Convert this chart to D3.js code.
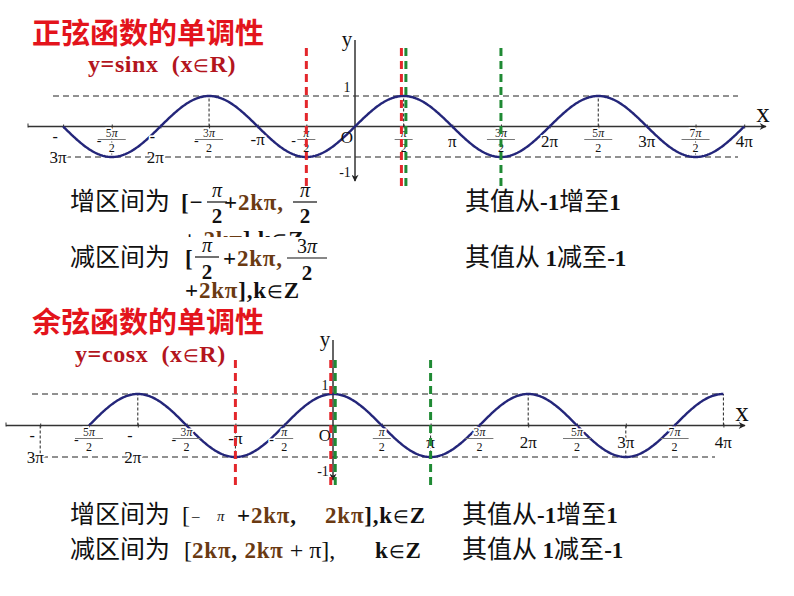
<!DOCTYPE html>
<html><head><meta charset="utf-8">
<script src="https://cdn.jsdelivr.net/npm/d3@7"></script>
<style>body{margin:0;background:#fff}svg{display:block}text{white-space:pre}</style>
</head><body><svg id="c" width="794" height="596"></svg>
<script>
// ---------- data (x values in units of π) ----------
const sinDomain = [-3, 4];
const cosDomain = [-2.5, 4];
const sinTickValues = [-3, -2.5, -2, -1.5, -1, -0.5, 0.5, 1, 1.5, 2, 2.5, 3, 3.5, 4];
const sinTickLabels = ["-3π", "-5π/2", "-2π", "-3π/2", "-π", "-π/2", "π/2", "π", "3π/2", "2π", "5π/2", "3π", "7π/2", "4π"];
const cosTickValues = [-3, -2.5, -2, -1.5, -1, -0.5, 0.5, 1, 1.5, 2, 2.5, 3, 3.5, 4];
const cosTickLabels = ["-3π", "-5π/2", "-2π", "-3π/2", "-π", "-π/2", "π/2", "π", "3π/2", "2π", "5π/2", "3π", "7π/2", "4π"];
const yTickValues = [1, -1];
const yTickLabels = ["1", "-1"];
const sinExtrema = [-2.5, -1.5, -0.5, 0.5, 1.5, 2.5, 3.5];
const cosExtrema = [-3, -2, -1, 1, 2, 3, 4];
const sinMarkers = [{v: -0.5, c: "red"}, {v: 0.5, c: "red"}, {v: 0.5, c: "green"}, {v: 1.5, c: "green"}];
const cosMarkers = [{v: -1, c: "red"}, {v: 0, c: "red"}, {v: 0, c: "green"}, {v: 1, c: "green"}];

// ---------- styles ----------
const SERIF = "'Liberation Serif','Times New Roman',serif";
const CJK = "'Noto Sans CJK SC','Noto Sans',sans-serif";
const BROWN = "#6a3a12";
const COLORS = {red: "#e3262b", green: "#1f8a34"};
const svg = d3.select("#c");

const defs = svg.append("defs");
defs.append("marker").attr("id", "arr").attr("viewBox", "0 0 10 10").attr("refX", 9).attr("refY", 5)
  .attr("markerWidth", 9).attr("markerHeight", 7).attr("markerUnits", "userSpaceOnUse").attr("orient", "auto")
  .append("path").attr("d", "M0,0 L10,5 L0,10 L3,5 Z").attr("fill", "#222");

function txt(g, x, y, s, o) {
  o = o || {};
  return g.append("text").attr("x", x).attr("y", y).text(s)
    .attr("font-family", o.family || SERIF).attr("font-size", o.size || 16)
    .attr("font-weight", o.weight || "normal").attr("font-style", o.style || "normal")
    .attr("fill", o.fill || "#111").attr("text-anchor", o.anchor || "start")
    .attr("letter-spacing", o.ls || 0);
}
function halo(sel) { return sel.attr("stroke", "#fff").attr("stroke-width", 3).attr("paint-order", "stroke"); }

function panel(cfg) {
  const x = d3.scaleLinear().domain([0, 1]).range([cfg.ox, cfg.ox + cfg.pi]);
  const y = d3.scaleLinear().domain([-1, 1]).range([cfg.yBot, cfg.yTop]);
  const g = svg.append("g");
  const ay = y(0);

  g.append("line").attr("x1", cfg.hTop[0]).attr("x2", cfg.hTop[1]).attr("y1", y(1)).attr("y2", y(1))
    .attr("stroke", "#222").attr("stroke-width", 1).attr("stroke-dasharray", "6,4");
  g.append("line").attr("x1", cfg.hBot[0]).attr("x2", cfg.hBot[1]).attr("y1", y(-1)).attr("y2", y(-1))
    .attr("stroke", "#222").attr("stroke-width", 1).attr("stroke-dasharray", "6,4");

  g.selectAll(".ext").data(cfg.extrema).join("line")
    .attr("x1", d => x(d)).attr("x2", d => x(d)).attr("y1", ay).attr("y2", d => y(cfg.fn(d * Math.PI)))
    .attr("stroke", "#222").attr("stroke-width", 1).attr("stroke-dasharray", "3,2");

  g.append("line").attr("x1", cfg.axX[0]).attr("x2", cfg.axX[1]).attr("y1", ay).attr("y2", ay)
    .attr("stroke", "#333").attr("stroke-width", 1.5).attr("marker-end", "url(#arr)");
  const axis = d3.axisBottom(x).tickValues(cfg.tickValues).tickFormat("").tickSize(4);
  const ag = g.append("g").attr("transform", `translate(0,${ay - 2})`).call(axis);
  ag.select(".domain").remove();
  ag.selectAll(".tick line").attr("stroke", "#333");
  g.append("line").attr("x1", cfg.axX[0]).attr("x2", cfg.axX[0]).attr("y1", ay - 3).attr("y2", ay + 1).attr("stroke", "#333");

  g.append("line").attr("x1", x(0)).attr("x2", x(0)).attr("y1", cfg.yAx[1]).attr("y2", cfg.yAx[0])
    .attr("stroke", "#333").attr("stroke-width", 1.5).attr("marker-end", "url(#arr)");

  const pts = d3.range(cfg.domain[0], cfg.domain[1] + 0.0001, 0.01).map(v => [v, cfg.fn(v * Math.PI)]);
  g.append("path").datum(pts)
    .attr("d", d3.line().x(d => x(d[0])).y(d => y(d[1])))
    .attr("fill", "none").attr("stroke", "#24267a").attr("stroke-width", 2.4);

  cfg.tickValues.forEach((v, i) => {
    const lab = cfg.tickLabels[i];
    const m = lab.match(/^(-?)(\d*)π(?:\/(\d))?$/);
    const cx = x(v);
    const neg = m[1] === "-", coef = m[2], den = m[3];
    if (den) {
      if (neg) halo(txt(g, cx - 15, ay + 18, "-", {size: 14}));
      const t = txt(g, cx, ay + cfg.fr[0], "", {size: 12, anchor: "middle"});
      if (coef) t.append("tspan").text(coef);
      t.append("tspan").text("π").attr("font-style", "italic");
      halo(t);
      const w = coef ? 14 : 9;
      g.append("line").attr("x1", cx - w).attr("x2", cx + w).attr("y1", ay + cfg.fr[1]).attr("y2", ay + cfg.fr[1])
        .attr("stroke", "#777").attr("stroke-width", 1);
      halo(txt(g, cx, ay + cfg.fr[2], "2", {size: 12, anchor: "middle"}));
    } else if (neg && coef) {
      halo(txt(g, cx - 8, ay + 15, "-", {size: 16, anchor: "middle"}));
      halo(txt(g, cx - 5, y(-1) + 6, coef + "π", {size: 17, anchor: "middle"}));
    } else {
      halo(txt(g, cx, ay + (neg ? 18 : cfg.intDy), lab, {size: 17, anchor: "middle"}));
    }
  });

  txt(g, x(0) - 8, ay + cfg.oDy, "O", {size: 17, anchor: "middle"});
  yTickValues.forEach((v, i) => {
    txt(g, x(0) - (v > 0 ? 8 : 10), v > 0 ? y(v) - 4 : cfg.yAx[0] - 4, yTickLabels[i], {size: 14, anchor: "middle"});
  });
  txt(g, x(0) - 8, cfg.yAx[1] + 6, "y", {size: 21, anchor: "middle"});
  txt(g, cfg.axX[1] - 3, ay - 5, "x", {size: 27, anchor: "middle"});

  cfg.markers.forEach((mk) => {
    const same = cfg.markers.filter(d => d.v === mk.v);
    const k = same.indexOf(mk);
    const off = (k - (same.length - 1) / 2) * 4.5;
    g.append("line").attr("x1", x(mk.v) + off).attr("x2", x(mk.v) + off)
      .attr("y1", cfg.mk[0]).attr("y2", cfg.mk[1])
      .attr("stroke", COLORS[mk.c]).attr("stroke-width", 3).attr("stroke-dasharray", "8,5");
  });
  return g;
}

panel({
  domain: sinDomain, fn: Math.sin, ox: 355, pi: 97.3, yTop: 96, yBot: 157,
  hTop: [53, 738], hBot: [55, 738], axX: [28, 766], yAx: [181, 40],
  tickValues: sinTickValues, tickLabels: sinTickLabels, extrema: sinExtrema, markers: sinMarkers,
  fr: [10, 13, 25], intDy: 20, oDy: 16, mk: [48, 186]
});
panel({
  domain: cosDomain, fn: Math.cos, ox: 333, pi: 97.6, yTop: 394, yBot: 457,
  hTop: [32, 723], hBot: [32, 715], axX: [6, 745], yAx: [480, 340],
  tickValues: cosTickValues, tickLabels: cosTickLabels, extrema: cosExtrema, markers: cosMarkers,
  fr: [10, 13, 25], intDy: 22, oDy: 15, mk: [360, 490]
});

// ---------- titles ----------
const T = svg.append("g");
function subtitle(x, y, fnName) {
  const t = T.append("text").attr("x", x).attr("y", y).attr("font-family", SERIF).attr("font-size", 24)
    .attr("font-weight", "bold").attr("fill", "#b3151d").attr("letter-spacing", 0.6);
  t.append("tspan").text(fnName + "  (x");
  t.append("tspan").text("∈").attr("font-size", 18).attr("font-weight", "normal");
  t.append("tspan").text("R)");
}
txt(T, 32, 44, "正弦函数的单调性", {family: CJK, size: 29, weight: "bold", fill: "#e3141c"});
subtitle(88, 72, "y=sinx");
txt(T, 32, 333, "余弦函数的单调性", {family: CJK, size: 29, weight: "bold", fill: "#e3141c"});
subtitle(75, 362, "y=cosx");

// ---------- interval texts ----------
const B = {size: 23, weight: "bold", ls: 0.8};
function frac(g, cx, yNum, yLine, yDen, num, halfW) {
  const t = txt(g, cx, yNum, "", {size: 20, anchor: "middle"});
  if (num.length > 1) t.append("tspan").text(num[0]);
  t.append("tspan").text("π").attr("font-style", "italic");
  g.append("line").attr("x1", cx - halfW).attr("x2", cx + halfW).attr("y1", yLine).attr("y2", yLine).attr("stroke", "#111").attr("stroke-width", 1.2);
  txt(g, cx, yDen, "2", {size: 21, weight: "bold", anchor: "middle"});
}
function rich(g, x, y, parts) {
  const t = g.append("text").attr("x", x).attr("y", y);
  parts.forEach(p => {
    const segs = p.cjk ? [p.t] : p.t.split(/(∈)/);
    segs.forEach(s => {
      if (!s) return;
      const isIn = s === "∈";
      t.append("tspan").text(s).attr("font-family", p.cjk ? CJK : SERIF)
        .attr("font-size", isIn ? 18 : (p.size || (p.cjk ? 25 : 23)))
        .attr("font-weight", isIn ? "normal" : (p.w || (p.cjk ? "normal" : "bold")))
        .attr("fill", p.c || "#111").attr("letter-spacing", p.cjk ? 0 : (p.ls !== undefined ? p.ls : 0.8));
    });
  });
  return t;
}
const S = svg.append("g");
// sine row 1
txt(S, 70, 210, "增区间为", {family: CJK, size: 25});
txt(S, 181, 210, "[−", B);
frac(S, 217, 197, 202, 223, "π", 10);
rich(S, 224, 210, [{t: "+"}, {t: "2kπ,", c: BROWN}]);
frac(S, 305, 197, 202, 223, "π", 12);
defs.append("clipPath").attr("id", "cut").append("rect").attr("x", 0).attr("y", 226).attr("width", 400).attr("height", 11);
rich(S, 183, 247, [{t: "+ "}, {t: "2kπ", c: BROWN}, {t: "],k∈Z"}]).attr("clip-path", "url(#cut)");
// sine row 2
txt(S, 70, 266, "减区间为", {family: CJK, size: 25});
txt(S, 185, 266, "[", B);
frac(S, 207, 252, 257, 279, "π", 12);
rich(S, 223, 266, [{t: "+"}, {t: "2kπ,", c: BROWN}]);
frac(S, 307, 253, 258, 280, "3π", 20);
rich(S, 185, 298, [{t: "+"}, {t: "2kπ", c: BROWN}, {t: "],k∈Z"}]);
rich(S, 465, 210, [{t: "其值从", cjk: 1}, {t: "-1", ls: 0}, {t: "增至", cjk: 1}, {t: "1", ls: 0}]);
rich(S, 465, 266, [{t: "其值从 ", cjk: 1}, {t: "1", ls: 0}, {t: "减至", cjk: 1}, {t: "-1", ls: 0}]);

// cosine rows
txt(S, 70, 523, "增区间为", {family: CJK, size: 25});
txt(S, 182, 523, "[", {size: 24});
txt(S, 192, 521, "–", {size: 15});
txt(S, 217, 521, "π", {size: 15, style: "italic"});
rich(S, 237, 523, [{t: "+"}, {t: "2kπ", c: BROWN}, {t: ","}]);
rich(S, 325, 523, [{t: "2kπ", c: BROWN}, {t: "],k∈Z"}]);
rich(S, 462, 523, [{t: "其值从", cjk: 1}, {t: "-1", ls: 0}, {t: "增至", cjk: 1}, {t: "1", ls: 0}]);
txt(S, 70, 558, "减区间为", {family: CJK, size: 25});
rich(S, 184, 558, [{t: "[", w: "normal", size: 24, ls: 0}, {t: "2kπ", c: BROWN}, {t: ", "}, {t: "2kπ", c: BROWN},
  {t: " + π],", w: "normal", size: 24, ls: 0}]);
rich(S, 375, 558, [{t: "k∈Z"}]);
rich(S, 462, 558, [{t: "其值从 ", cjk: 1}, {t: "1", ls: 0}, {t: "减至", cjk: 1}, {t: "-1", ls: 0}]);
</script></body></html>
